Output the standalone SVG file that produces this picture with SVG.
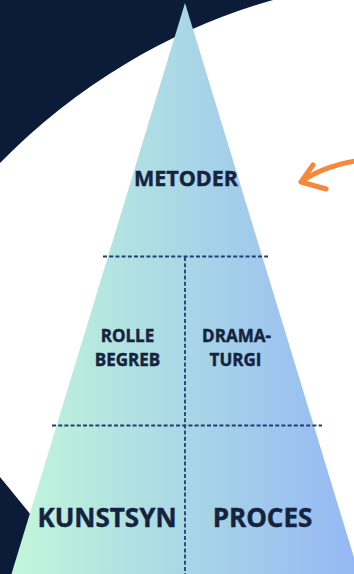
<svg xmlns="http://www.w3.org/2000/svg" width="354" height="574" viewBox="0 0 354 574">
  <defs>
    <linearGradient id="pyrGrad" gradientUnits="userSpaceOnUse" x1="12" y1="0" x2="359" y2="0">
      <stop offset="0" stop-color="#c2f7da"/>
      <stop offset="0.5" stop-color="#a9d7e6"/>
      <stop offset="1" stop-color="#95b7f5"/>
    </linearGradient>
  </defs>
  <style>
    .dark { fill: #0c1c38; }
    .div { stroke: #223f74; stroke-width: 1.8; stroke-dasharray: 4 2.2; fill: none; }
    .lbl { font-family: "Open Sans", "Noto Sans", "DejaVu Sans", sans-serif; font-weight: 700; fill: #15233f; stroke: #15233f; stroke-width: 0.45; text-anchor: middle; }
    .arrow { stroke: #f5883a; stroke-width: 5; fill: none; stroke-linecap: round; stroke-linejoin: round; }
  </style>
  <rect width="354" height="574" fill="#ffffff"/>
  <g id="background">
    <path class="dark" d="M0,0 L273,0 A619,619 0 0 0 0,163 Z"/>
    <path class="dark" d="M0,477 L40,526 L40,574 L0,574 Z"/>
  </g>
  <g id="pyramid">
    <path d="M185,3 L11.5,574 L359,574 Z" fill="url(#pyrGrad)"/>
  </g>
  <g id="connectors">
    <line class="div" x1="103" y1="256.5" x2="268" y2="256.5"/>
    <line class="div" x1="52" y1="425.5" x2="322" y2="425.5"/>
    <line class="div" x1="185" y1="257" x2="185" y2="574"/>
  </g>
  <g id="node-metoder">
    <text class="lbl" x="186" y="186" font-size="21.5">METODER</text>
  </g>
  <g id="node-rollebegreb">
    <text class="lbl" x="127.5" y="341.5" font-size="17">ROLLE</text>
    <text class="lbl" x="127.5" y="366" font-size="17">BEGREB</text>
  </g>
  <g id="node-dramaturgi">
    <text class="lbl" x="236.5" y="341.5" font-size="17">DRAMA-</text>
    <text class="lbl" x="235.5" y="366" font-size="17">TURGI</text>
  </g>
  <g id="node-kunstsyn">
    <text class="lbl" x="107" y="527" font-size="26">KUNSTSYN</text>
  </g>
  <g id="node-proces">
    <text class="lbl" x="262.5" y="527" font-size="26">PROCES</text>
  </g>
  <g id="arrow">
    <path class="arrow" d="M356,161 C340,163 318,170 302,181"/>
    <path class="arrow" d="M313,165 L301,182 L326,189"/>
  </g>
</svg>
